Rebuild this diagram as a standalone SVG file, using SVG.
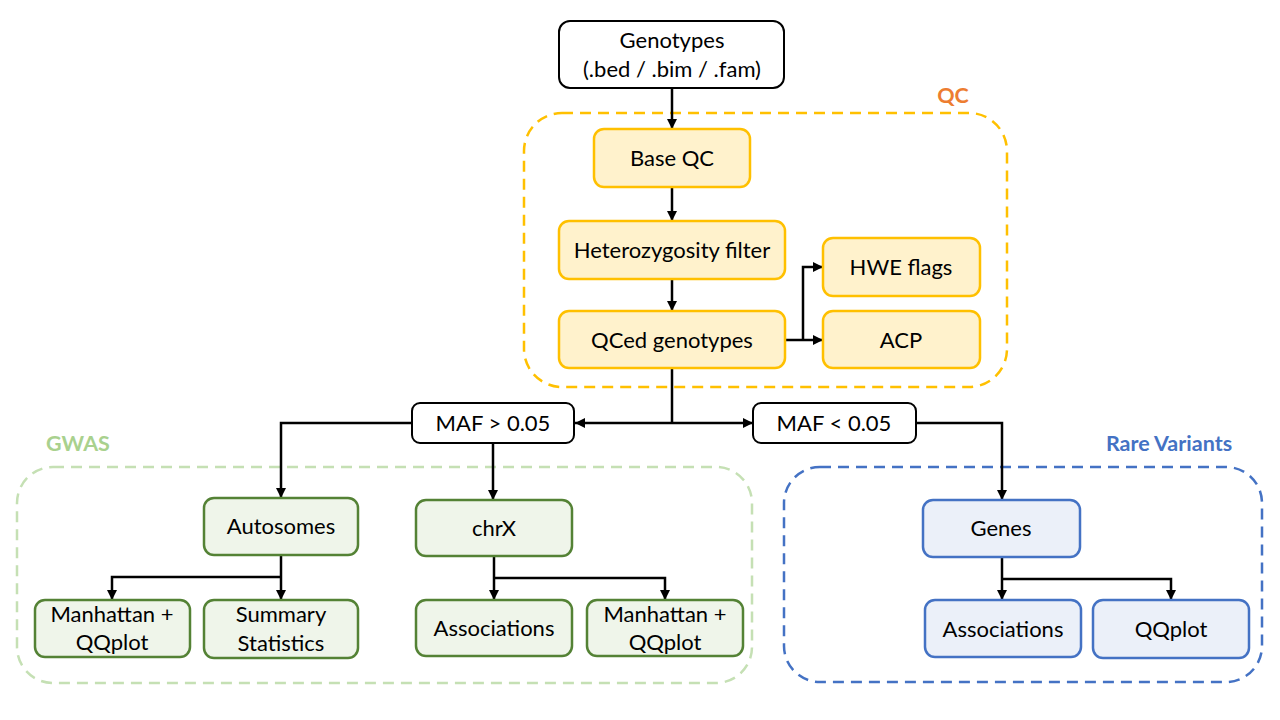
<svg xmlns="http://www.w3.org/2000/svg" width="1280" height="720" viewBox="0 0 1280 720">
<style>
text{font-family:Lato,"Open Sans","Liberation Sans",sans-serif;font-size:22px;fill:#000;text-anchor:middle}
.lbl{font-weight:bold;font-size:21.5px}
.plain{fill:#fff;stroke:#000;stroke-width:2}
.qc{fill:#FFF2CC;stroke:#FFC000;stroke-width:2.5}
.gw{fill:#EFF5EA;stroke:#548235;stroke-width:2.5}
.rv{fill:#EBF0F9;stroke:#4472C4;stroke-width:2.5}
.grp{fill:none;stroke-width:2.5;stroke-dasharray:11 7}
.c{fill:none;stroke:#000;stroke-width:2.5}
</style>
<defs>
<marker id="ah" viewBox="0 0 10 10" refX="10" refY="5" markerWidth="4" markerHeight="4" orient="auto" markerUnits="strokeWidth">
<path d="M0,0 L10,5 L0,10 z" fill="#000"/>
</marker>
</defs>
<g id="groups">
<rect x="524" y="113" width="483" height="274" rx="38" class="grp" stroke="#FFC000"/>
<text x="953" y="103" class="lbl" style="fill:#ED7D31">QC</text>
<rect x="17" y="467" width="735" height="216" rx="36" class="grp" stroke="#C5E0B4"/>
<text x="78" y="451" class="lbl" style="fill:#A9D18E">GWAS</text>
<rect x="784" y="467" width="478" height="215" rx="36" class="grp" stroke="#4472C4"/>
<text x="1169" y="451" class="lbl" style="fill:#4472C4">Rare Variants</text>
</g>
<g id="connectors">
<path class="c" marker-end="url(#ah)" d="M672,88 V129"/>
<path class="c" marker-end="url(#ah)" d="M672,187 V221"/>
<path class="c" marker-end="url(#ah)" d="M672,279 V311"/>
<path class="c" marker-end="url(#ah)" d="M785,340 H823"/>
<path class="c" marker-end="url(#ah)" d="M803,340 V267 H823"/>
<path class="c" d="M672,368 V423"/>
<path class="c" marker-end="url(#ah)" d="M672,423 H575"/>
<path class="c" marker-end="url(#ah)" d="M672,423 H753"/>
<path class="c" marker-end="url(#ah)" d="M412,423 H281 V498"/>
<path class="c" marker-end="url(#ah)" d="M493,443 V500"/>
<path class="c" marker-end="url(#ah)" d="M916,423 H1002 V500"/>
<path class="c" marker-end="url(#ah)" d="M281,555 V600"/>
<path class="c" marker-end="url(#ah)" d="M281,577 H112 V600"/>
<path class="c" marker-end="url(#ah)" d="M494,556 V600"/>
<path class="c" marker-end="url(#ah)" d="M494,578 H665 V600"/>
<path class="c" marker-end="url(#ah)" d="M1002,557 V600"/>
<path class="c" marker-end="url(#ah)" d="M1002,579 H1171 V600"/>
</g>
<g id="genotypes"><rect x="559" y="21" width="225" height="67" rx="11" class="plain"/><text x="672" y="48">Genotypes</text><text x="672" y="77">(.bed / .bim / .fam)</text></g>
<g id="baseqc"><rect x="594" y="129" width="156" height="58" rx="10" class="qc"/><text x="672" y="166">Base QC</text></g>
<g id="het"><rect x="559" y="221" width="226" height="58" rx="10" class="qc"/><text x="672" y="258">Heterozygosity filter</text></g>
<g id="qced"><rect x="559" y="311" width="226" height="57" rx="10" class="qc"/><text x="672" y="348">QCed genotypes</text></g>
<g id="hwe"><rect x="823" y="238" width="157" height="58" rx="10" class="qc"/><text x="901" y="275">HWE flags</text></g>
<g id="acp"><rect x="823" y="311" width="157" height="57" rx="10" class="qc"/><text x="901" y="348">ACP</text></g>
<g id="maf_hi"><rect x="412" y="403" width="162" height="40" rx="8" class="plain"/><text x="493" y="431">MAF &gt; 0.05</text></g>
<g id="maf_lo"><rect x="753" y="403" width="163" height="40" rx="8" class="plain"/><text x="834" y="431">MAF &lt; 0.05</text></g>
<g id="autosomes"><rect x="204" y="498" width="154" height="57" rx="10" class="gw"/><text x="281" y="534">Autosomes</text></g>
<g id="chrx"><rect x="416" y="500" width="156" height="56" rx="10" class="gw"/><text x="494" y="536">chrX</text></g>
<g id="manh1"><rect x="35" y="600" width="155" height="57" rx="10" class="gw"/><text x="112" y="622">Manhattan +</text><text x="112" y="650">QQplot</text></g>
<g id="summary"><rect x="204" y="600" width="154" height="58" rx="10" class="gw"/><text x="281" y="622">Summary</text><text x="281" y="651">Statistics</text></g>
<g id="assoc_gwas"><rect x="416" y="600" width="156" height="56" rx="10" class="gw"/><text x="494" y="636">Associations</text></g>
<g id="manh2"><rect x="587" y="600" width="156" height="56" rx="10" class="gw"/><text x="665" y="622">Manhattan +</text><text x="665" y="650">QQplot</text></g>
<g id="genes"><rect x="923" y="500" width="157" height="57" rx="10" class="rv"/><text x="1001" y="536">Genes</text></g>
<g id="assoc_rv"><rect x="925" y="600" width="156" height="57" rx="10" class="rv"/><text x="1003" y="637">Associations</text></g>
<g id="qqplot"><rect x="1093" y="600" width="156" height="58" rx="10" class="rv"/><text x="1171" y="637">QQplot</text></g>
</svg>
